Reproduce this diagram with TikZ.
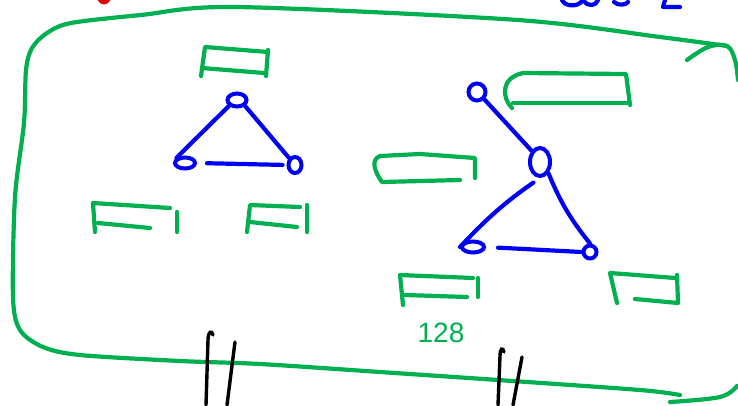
\documentclass[tikz,border=0pt]{standalone}
\usepackage{tikz}
\usetikzlibrary{shapes.geometric}
\usepackage{xcolor}
\usepackage{fontspec}
\newfontfamily\notefont{Liberation Sans}
\definecolor{inkgreen}{RGB}{0,176,80}
\definecolor{inkblue}{RGB}{0,0,245}
\definecolor{inkred}{RGB}{220,0,0}

\begin{document}
\begin{tikzpicture}[
  x=1pt, y=-1pt,
  pen/.style={line width=4.2pt, line cap=round, line join=round},
  box/.style={pen, draw=inkgreen},
  vtx/.style 2 args={ellipse, draw=inkblue, line width=4pt,
                     inner sep=0pt, minimum width=#1, minimum height=#2},
  link/.style={pen, draw=inkblue},
  cut/.style={line width=3.4pt, line cap=round, draw=black},
  numlabel/.style={text=inkgreen, font=\notefont\fontsize{28}{28}\selectfont},
]
\useasboundingbox (0,0) rectangle (738,405);

% ---- frame ----
\draw[box] plot[smooth, tension=0.5] coordinates {
  (727,46) (660,37) (518,20) (236,7) (141,15) (71,23) (47,33) (32,48)
  (26,70) (24,123) (15,197) (13,297) (20,330) (43,347) (80,355)
  (180,361) (260,364) (380,372) (498,380) (640,390) (680,395)};
\draw[box] plot[smooth, tension=0.6] coordinates {
  (687,60) (708,47) (727,46) (735,60) (738,80)};
\draw[box] plot[smooth, tension=0.6] coordinates {
  (670,402) (720,397) (737,386)};

% cut-off scribbles at the top edge
\draw[pen, draw=inkred] (100,0) .. controls (102,3) and (106,3) .. (108,0);
\draw[pen, draw=inkblue] (562,0) .. controls (565,7) and (578,7) .. (582,1);
\draw[pen, draw=inkblue] (584,1) .. controls (588,7) and (596,6) .. (598,0);
\draw[pen, draw=inkblue] (614,2) .. controls (618,6) and (626,5) .. (628,2);
\draw[pen, draw=inkblue] (665,0) -- (663,7) -- (680,7);

% ---- left triangle ----
\node[vtx={19pt}{13pt}] (atop) at (237,100) {};
\node[vtx={20pt}{11pt}] (aleft) at (185,163) {};
\node[vtx={13pt}{16pt}] (aright) at (295,165) {};

\draw[link] (atop.south west) -- (aleft.north west);
\draw[link] (atop.south east) -- (aright.north west);
\draw[link, shorten <=10pt, shorten >=4pt] (aleft.east) -- (aright.west);

% ---- right triangle ----
\node[vtx={17pt}{17pt}] (bhook) at (477,92) {};
\node[vtx={20pt}{28pt}] (bmid) at (540,162) {};
\node[vtx={22pt}{11pt}] (bleft) at (473,247) {};
\node[vtx={13pt}{13pt}] (bright) at (590,252) {};

\draw[link] (bhook.south east) -- (bmid.north west);
\draw[link] (bmid.south east) to[bend right=8] (bright.north);
\draw[link, shorten <=8pt] (bmid.south) to[bend right=6] (bleft.west);
\draw[link, shorten <=12pt] (bleft.east) -- (bright.west);

% ---- empty boxes ----
% above left triangle
\draw[box] (268,52) -- (205,47) -- (201,76);
\draw[box] (202,68) -- (264,73);
\draw[box] (268,50) -- (266,76);
% beside top circle
\draw[box] (512,108) .. controls (502,98) and (500,78) .. (523,73) -- (626,74) -- (630,105);
\draw[box] (513,103) -- (628,103);
% middle
\draw[box] (460,180) -- (382,182) .. controls (375,172) and (370,160) .. (380,156)
  -- (420,154) -- (475,158) -- (475,178);
% below left triangle
\draw[box] (170,208) -- (93,203) -- (95,232);
\draw[box] (98,223) -- (150,228);
\draw[box] (177,212) -- (177,232);
\draw[box] (300,207) -- (250,205) -- (247,232);
\draw[box] (250,222) -- (297,227);
\draw[box] (307,205) -- (307,232);
% below right triangle
\draw[box] (473,278) -- (400,275) -- (403,305);
\draw[box] (405,295) -- (467,297);
\draw[box] (478,278) -- (478,297);
\draw[box] (675,278) -- (610,273) -- (617,303);
\draw[box] (677,275) -- (678,303) -- (635,299);

\node[numlabel] (count) at (441,333) {128};

% ---- cut marks ----
\draw[cut] (213,335) .. controls (212,330) and (208,331) .. (208,340) -- (206,405);
\draw[cut] (235,342) -- (227,405);
\draw[cut] (504,352) .. controls (503,347) and (500,348) .. (500,356) -- (498,405);
\draw[cut] (522,357) -- (513,405);

\end{tikzpicture}
\end{document}
